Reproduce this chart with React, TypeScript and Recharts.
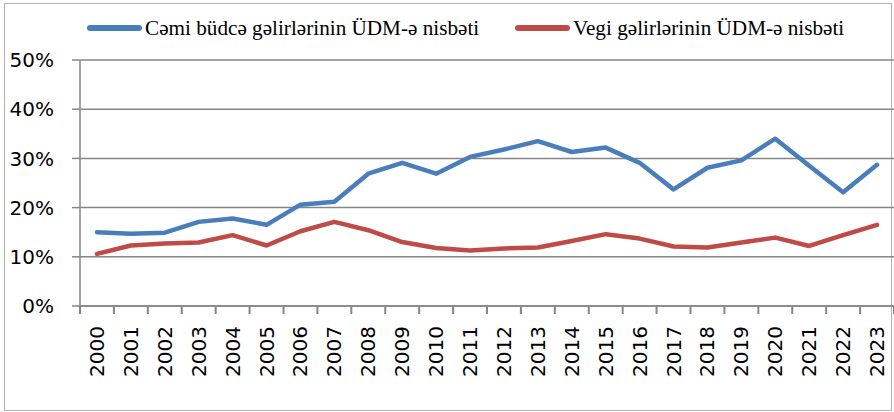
import { LineChart, Line, XAxis, YAxis, CartesianGrid, Legend } from 'recharts';

const years = [
  '2000', '2001', '2002', '2003', '2004', '2005', '2006', '2007', '2008', '2009', '2010', '2011',
  '2012', '2013', '2014', '2015', '2016', '2017', '2018', '2019', '2020', '2021', '2022', '2023',
];
const totalRevenue = [
  15.0, 14.7, 14.9, 17.1, 17.8, 16.5, 20.6, 21.2, 26.9, 29.1, 26.9, 30.3,
  31.8, 33.5, 31.3, 32.2, 29.1, 23.7, 28.1, 29.6, 34.0, 28.5, 23.1, 28.7,
];
const taxRevenue = [
  10.6, 12.3, 12.7, 12.9, 14.4, 12.3, 15.2, 17.1, 15.4, 13.0, 11.8, 11.3,
  11.7, 11.9, 13.2, 14.6, 13.7, 12.1, 11.9, 12.9, 13.9, 12.2, 14.4, 16.5,
];
const yTicks = [0, 10, 20, 30, 40, 50];

const SERIES = [
  { key: 'total', name: 'Cəmi büdcə gəlirlərinin ÜDM-ə nisbəti', color: '#4a7ebb' },
  { key: 'tax', name: 'Vegi gəlirlərinin ÜDM-ə nisbəti', color: '#be4b48' },
];

const data = years.map((year, i) => ({ year, total: totalRevenue[i], tax: taxRevenue[i] }));

const W = 894;
const H = 412;
const Y_AXIS_W = 80;
const AXIS = '#868686';
// half of one category band, so tick marks sit between the years like in Excel
const HALF_BAND = (W - Y_AXIS_W) / years.length / 2;

function YearTick(props: any) {
  const { x, y, payload, index, visibleTicksCount } = props;
  const cx = Number(x);
  const cy = Number(y);
  const last = index === visibleTicksCount - 1;
  const ty = cy + 20;
  return (
    <g>
      <rect x={cx - HALF_BAND - 1} y={cy} width={2} height={8} fill={AXIS} />
      {last && <rect x={cx + HALF_BAND - 1} y={cy} width={2} height={8} fill={AXIS} />}
      <text
        x={cx}
        y={ty}
        transform={`rotate(-90, ${cx}, ${ty})`}
        textAnchor="end"
        dominantBaseline="central"
        fontFamily="DejaVu Sans"
        fontSize={20}
        fill="#000"
      >
        {payload.value}
      </text>
    </g>
  );
}

function LegendContent(props: any) {
  const items = props.payload ?? [];
  const starts = [87, 515];
  return (
    <svg width={W} height={30} style={{ display: 'block' }}>
      {items.map((it: any, i: number) => (
        <g key={i}>
          <line
            x1={starts[i] + 3}
            x2={starts[i] + 52}
            y1={13}
            y2={13}
            stroke={it.color}
            strokeWidth={6}
            strokeLinecap="round"
          />
          <text
            x={starts[i] + 58}
            y={13}
            dominantBaseline="central"
            fontFamily="Liberation Serif"
            fontSize={21.2}
            fill="#000"
          >
            {it.value}
          </text>
        </g>
      ))}
    </svg>
  );
}

export default function App() {
  return (
    <div style={{ position: 'absolute', left: 0, top: 0, width: W, height: H, background: '#fff' }}>
      <div
        style={{
          position: 'absolute',
          left: 4,
          top: 3,
          width: 888,
          height: 408,
          boxSizing: 'border-box',
          border: '1px solid #b4b4b4',
        }}
      />
      <div style={{ position: 'absolute', left: 0, top: 0 }}>
        <LineChart width={W} height={H} data={data} margin={{ top: 60, right: 0, left: 0, bottom: 0 }}>
          <CartesianGrid vertical={false} stroke={AXIS} strokeWidth={1.5} />
          <XAxis
            dataKey="year"
            scale="band"
            height={106}
            axisLine={{ stroke: AXIS, strokeWidth: 1.5 }}
            tickLine={false}
            tickSize={0}
            tickMargin={0}
            interval={0}
            tick={<YearTick />}
          />
          <YAxis
            domain={[0, 50]}
            ticks={yTicks}
            width={Y_AXIS_W}
            tickSize={8}
            tickMargin={18}
            tickFormatter={(v: number) => `${v}%`}
            axisLine={{ stroke: AXIS, strokeWidth: 1.5 }}
            tickLine={{ stroke: AXIS, strokeWidth: 1.5 }}
            tick={{ fontFamily: 'DejaVu Sans', fontSize: 20, fill: '#000' }}
          />
          <Legend
            layout="horizontal"
            verticalAlign="middle"
            align="center"
            wrapperStyle={{ top: 15, left: 0, width: W }}
            content={<LegendContent />}
          />
          {SERIES.map((s) => (
            <Line
              key={s.key}
              dataKey={s.key}
              name={s.name}
              stroke={s.color}
              strokeWidth={4.5}
              strokeLinejoin="round"
              strokeLinecap="round"
              dot={false}
              activeDot={false}
              isAnimationActive={false}
            />
          ))}
        </LineChart>
      </div>
    </div>
  );
}
